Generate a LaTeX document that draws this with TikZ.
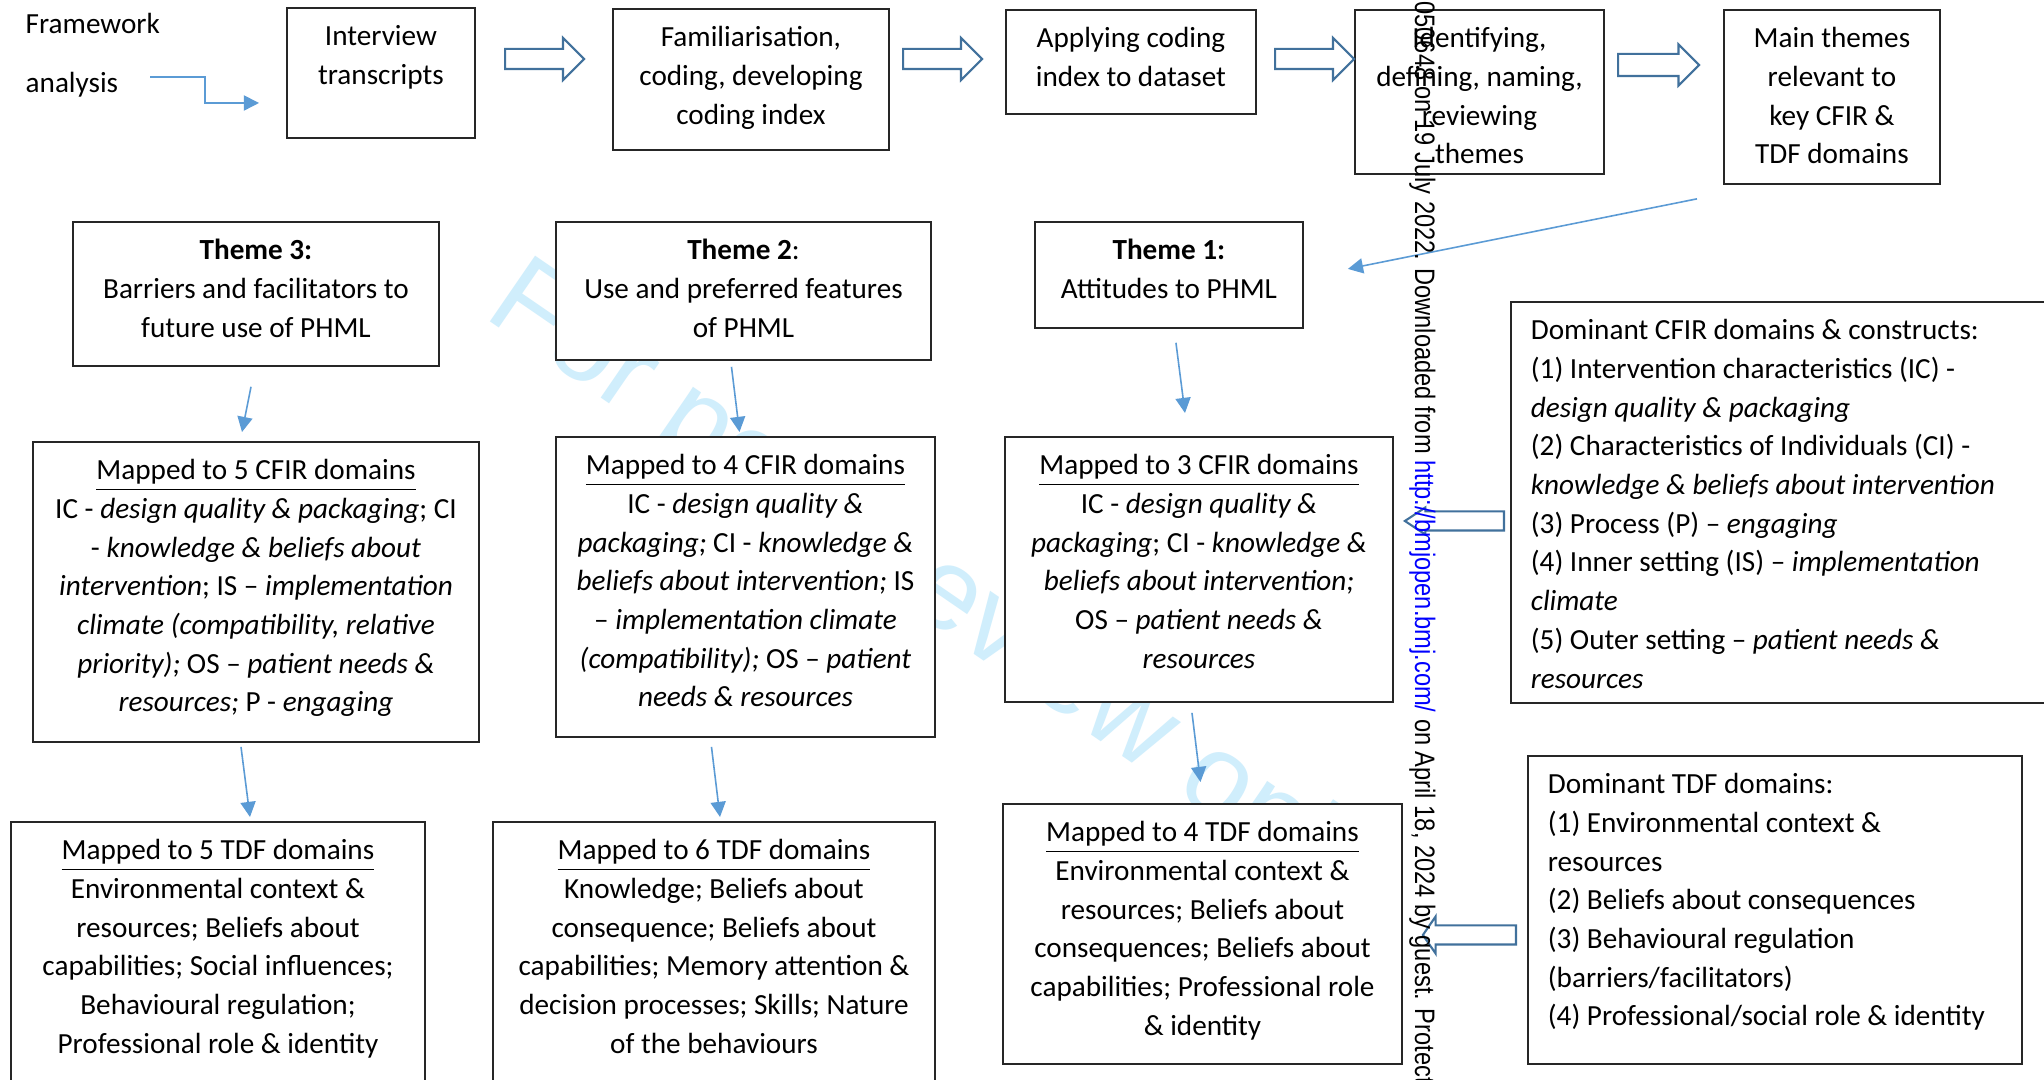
\documentclass[tikz,border=0pt]{standalone}
\usepackage{fontspec}
\setmainfont{Carlito}
\newfontfamily\wmfont{Liberation Sans}
\usetikzlibrary{arrows.meta, shapes.arrows, calc}
\definecolor{LinkBlue}{RGB}{91, 155, 213}
\definecolor{BlockBlue}{RGB}{65, 113, 156}
\definecolor{WmCyan}{RGB}{208, 238, 252}
\definecolor{UrlBlue}{RGB}{0, 0, 255}
\newcommand{\boxtext}[3]{\parbox[t][#2][t]{#1}{\centering\rule{0pt}{0.38cm}#3}}
\newcommand{\listtext}[3]{\parbox[t][#2][t]{#1}{\raggedright\leftskip=0.2cm\rule{0pt}{0.38cm}#3}}

\begin{document}
\begin{tikzpicture}[
  x=0.01cm, y=-0.01cm,
  every node/.style={font=\fontsize{8.3}{11}\selectfont},
  stagebox/.style={draw=black!85, line width=0.5pt, fill=white,
                   inner sep=0pt, anchor=north west},
  blockarr/.style={single arrow, draw=BlockBlue, line width=0.6pt, fill=white,
                   inner xsep=0pt, inner ysep=0.09cm, anchor=tail,
                   minimum height=0.79cm, single arrow head extend=0.11cm},
  link/.style={-{Triangle[length=4.3pt, width=4.3pt]}, line width=0.45pt, draw=LinkBlue},
  wmdiag/.style={font=\wmfont\fontsize{33}{40}\selectfont, text=WmCyan,
                 rotate=-34.5, anchor=base west, inner sep=0pt},
  wmside/.style={font=\wmfont\fontsize{8}{9.6}\selectfont, rotate=-90,
                 xscale=0.84, inner sep=0pt}
]
  %% Page and faint watermark
  \fill[white] (0,0) rectangle (2044,1080);
  \useasboundingbox (0,0) rectangle (2044,1080);
  \clip (0,0) rectangle (2044,1080);
  \node[wmdiag] (peer) at (482,316) {For peer review only};

  %% Top row: analysis steps
  \node[anchor=north west, inner sep=0pt, align=left,
        font=\fontsize{8.3}{16.7}\selectfont] (framework) at (25,13) {Framework\\analysis};
  \node[stagebox] (interview)   at (286,7)  {\boxtext{1.88cm}{1.30cm}{Interview\\transcripts}};
  \node[stagebox] (familiar)    at (612,8)  {\boxtext{2.76cm}{1.41cm}{Familiarisation,\\coding, developing\\coding index}};
  \node[stagebox] (applying)    at (1005,9) {\boxtext{2.50cm}{1.04cm}{Applying coding\\index to dataset}};
  \node[stagebox] (identifying) at (1354,9) {\boxtext{2.49cm}{1.64cm}{Identifying,\\defining, naming,\\reviewing\\themes}};
  \node[stagebox] (mainthemes)  at (1723,9) {\boxtext{2.16cm}{1.74cm}{Main themes\\relevant to\\key CFIR \&\\TDF domains}};

  \node[blockarr] (step1) at (504,59)  {};
  \node[blockarr] (step2) at (902,59)  {};
  \node[blockarr] (step3) at (1274,59) {};
  \node[blockarr, minimum height=0.81cm, inner ysep=0.10cm,
        single arrow head extend=0.095cm] (step4) at (1617,65) {};

  %% Themes
  \node[stagebox] (theme3) at (72,221)   {\boxtext{3.66cm}{1.44cm}{\textbf{Theme 3:}\\Barriers and facilitators to\\future use of PHML}};
  \node[stagebox] (theme2) at (555,221)  {\boxtext{3.75cm}{1.38cm}{\textbf{Theme 2}:\\Use and preferred features\\of PHML}};
  \node[stagebox] (theme1) at (1034,221) {\boxtext{2.68cm}{1.06cm}{\textbf{Theme 1:}\\Attitudes to PHML}};

  %% CFIR mapping
  \node[stagebox] (cfir5) at (32,441) {\boxtext{4.46cm}{3.00cm}{\underline{Mapped to 5 CFIR domains}\\
    IC - \textit{design quality \& packaging}; CI\\
    - \textit{knowledge \& beliefs about}\\
    \textit{intervention}; IS -- \textit{implementation}\\
    \textit{climate (compatibility, relative}\\
    \textit{priority);} OS -- \textit{patient needs \&}\\
    \textit{resources;} P - \textit{engaging}}};
  \node[stagebox] (cfir4) at (555,436) {\boxtext{3.79cm}{3.00cm}{\underline{Mapped to 4 CFIR domains}\\
    IC - \textit{design quality \&}\\
    \textit{packaging;} CI - \textit{knowledge \&}\\
    \textit{beliefs about intervention;} IS\\
    -- \textit{implementation climate}\\
    \textit{(compatibility);} OS -- \textit{patient}\\
    \textit{needs \& resources}}};
  \node[stagebox] (cfir3) at (1004,436) {\boxtext{3.88cm}{2.65cm}{\underline{Mapped to 3 CFIR domains}\\
    IC - \textit{design quality \&}\\
    \textit{packaging}; CI - \textit{knowledge \&}\\
    \textit{beliefs about intervention;}\\
    OS -- \textit{patient needs \&}\\
    \textit{resources}}};
  \node[stagebox] (domcfir) at (1510,301) {\listtext{5.50cm}{4.01cm}{Dominant CFIR domains \& constructs:\\
    (1) Intervention characteristics (IC) -\\
    \textit{design quality \& packaging}\\
    (2) Characteristics of Individuals (CI) -\\
    \textit{knowledge \& beliefs about intervention}\\
    (3) Process (P) -- \textit{engaging}\\
    (4) Inner setting (IS) -- \textit{implementation}\\
    \textit{climate}\\
    (5) Outer setting -- \textit{patient needs \&}\\
    \textit{resources}}};

  %% TDF mapping
  \node[stagebox] (tdf5) at (10,821) {\boxtext{4.14cm}{2.79cm}{\underline{Mapped to 5 TDF domains}\\
    Environmental context \&\\
    resources; Beliefs about\\
    capabilities; Social influences;\\
    Behavioural regulation;\\
    Professional role \& identity}};
  \node[stagebox] (tdf6) at (492,821) {\boxtext{4.42cm}{2.79cm}{\underline{Mapped to 6 TDF domains}\\
    Knowledge; Beliefs about\\
    consequence; Beliefs about\\
    capabilities; Memory attention \&\\
    decision processes; Skills; Nature\\
    of the behaviours}};
  \node[stagebox] (tdf4) at (1002,803) {\boxtext{3.99cm}{2.60cm}{\underline{Mapped to 4 TDF domains}\\
    Environmental context \&\\
    resources; Beliefs about\\
    consequences; Beliefs about\\
    capabilities; Professional role\\
    \& identity}};
  \node[stagebox] (domtdf) at (1527,755) {\listtext{4.94cm}{3.08cm}{Dominant TDF domains:\\
    (1) Environmental context \&\\
    resources\\
    (2) Beliefs about consequences\\
    (3) Behavioural regulation\\
    (barriers/facilitators)\\
    (4) Professional/social role \& identity}};

  \node[blockarr, shape border rotate=180, minimum height=0.99cm, inner ysep=0.085cm,
        single arrow head extend=0.04cm, single arrow tip angle=67] (domcfirarr) at (1505,521) {};
  \node[blockarr, shape border rotate=180, minimum height=0.93cm, inner ysep=0.085cm,
        single arrow head extend=0.09cm, single arrow tip angle=111] (domtdfarr) at (1517,935) {};

  %% Thin arrows
  \coordinate (fwout) at (150,77);
  \coordinate (fwin)  at (259,103);
  \draw[link] (fwout) -- ++(55,0) |- (fwin);
  \draw[link] ($(mainthemes.south west)+(-26,14)$) -- ($(theme1.east)+(44,-6)$);
  \draw[link] ($(theme3.south)+(-5,20)$)  -- ($(cfir5.north)+(-14,-9)$);
  \draw[link] ($(theme2.south)+(-12,6)$)  -- ($(cfir4.north)+(-6,-4)$);
  \draw[link] ($(theme1.south)+(7,14)$)   -- ($(cfir3.north)+(-14,-23)$);
  \draw[link] ($(cfir5.south)+(-15,4)$)   -- ($(tdf5.north)+(32,-4)$);
  \draw[link] ($(cfir4.south)+(-34,9)$)   -- ($(tdf6.north)+(6,-4)$);
  \draw[link] ($(cfir3.south)+(-7,10)$)   -- ($(tdf4.north)+(-2,-21)$);

  %% Side watermark
  \node[wmside, anchor=base east] (wmhead) at (1415,261)
    {BMJ Open: first published as 10.1136/bmjopen-2021-050648 on 19 July 2022.};
  \node[wmside, anchor=base west] (wmtail) at (1415,268)
    {Downloaded from \textcolor{UrlBlue}{http://bmjopen.bmj.com/} on April 18, 2024 by guest. Protected by copyright.};
\end{tikzpicture}
\end{document}
